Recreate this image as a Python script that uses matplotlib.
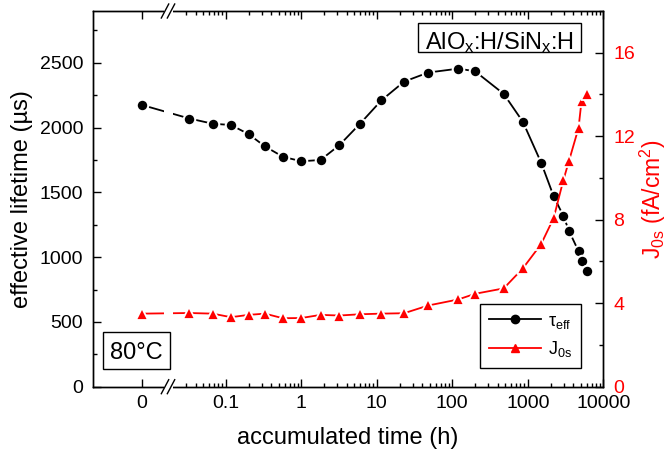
import numpy as np
import matplotlib
matplotlib.use('Agg')
import matplotlib.pyplot as plt
from matplotlib.lines import Line2D
from matplotlib.patches import Rectangle
from matplotlib.ticker import FixedLocator, FixedFormatter, MultipleLocator

plt.rcParams['font.family'] = 'Liberation Sans'
plt.rcParams['mathtext.fontset'] = 'custom'
plt.rcParams['mathtext.rm'] = 'Liberation Sans'
plt.rcParams['mathtext.it'] = 'Liberation Sans:italic'
plt.rcParams['mathtext.bf'] = 'Liberation Sans:bold'

# accumulated anneal time at 80 C (h); first point is the as-deposited sample
time_h = [0, 0.033, 0.067, 0.117, 0.2, 0.33, 0.57, 1.0, 1.8, 3.2, 6.0, 11.5,
          23, 48, 120, 200, 480, 860, 1500, 2200, 2950, 3500, 4700, 5150, 6000]
# effective lifetime (us)
tau_eff = [2175, 2070, 2030, 2020, 1950, 1855, 1775, 1740, 1750, 1865, 2030, 2210,
           2355, 2425, 2455, 2435, 2260, 2045, 1730, 1470, 1320, 1205, 1045, 970, 895]
# surface saturation current density (fA/cm2)
j0s = [3.50, 3.53, 3.50, 3.33, 3.44, 3.50, 3.28, 3.29, 3.44, 3.41, 3.47, 3.50,
       3.52, 3.89, 4.18, 4.45, 4.71, 5.67, 6.83, 8.08, 9.88, 10.8, 12.4, 13.7, 14.0]

xticks = [0, 0.1, 1, 10, 100, 1000, 10000]
xticklabels = ['0', '0.1', '1', '10', '100', '1000', '10000']

# x scale: linear stretch around t=0, log10 above T_LIN
T_LIN = 0.02
L0 = -2.113
SLOPE = (np.log10(T_LIN) - L0) / T_LIN
T_BREAK = 0.0168


def fwd(t):
    t = np.asarray(t, dtype=float)
    lg = np.log10(np.where(t > T_LIN, t, T_LIN))
    return np.where(t > T_LIN, lg, L0 + SLOPE * t)


def inv(u):
    u = np.asarray(u, dtype=float)
    ex = 10.0 ** np.clip(u, -10, 10)
    return np.where(u > np.log10(T_LIN), ex, (u - L0) / SLOPE)


fig = plt.figure(figsize=(6.69, 4.51), dpi=100)
ax = fig.add_axes([0.139, 0.1426, 0.7628, 0.833])
ax.set_xscale('function', functions=(fwd, inv))
ax.set_xlim(-0.0312, 10000)
ax.set_ylim(0, 2900)
ax2 = ax.twinx()
ax2.set_ylim(0, 18)

ax.plot(time_h, tau_eff, '-', color='black', lw=1.3, zorder=2)
ax.plot(time_h, tau_eff, 'o', ms=8.3, mfc='black', mec='white', mew=1.5, zorder=4)
ax2.plot(time_h, j0s, '-', color='red', lw=1.3, zorder=2)
ax2.plot(time_h, j0s, '^', ms=9, mfc='red', mec='white', mew=1.3, zorder=4)

# ticks
minor = [k * 10.0 ** n for n in range(-2, 4) for k in range(2, 10)]
minor = [m for m in minor if m >= 0.03]
ax.xaxis.set_major_locator(FixedLocator(xticks))
ax.xaxis.set_major_formatter(FixedFormatter(xticklabels))
ax.xaxis.set_minor_locator(FixedLocator(minor))
ax.yaxis.set_major_locator(MultipleLocator(500))
ax.yaxis.set_minor_locator(MultipleLocator(250))
ax2.yaxis.set_major_locator(MultipleLocator(4))
ax2.yaxis.set_minor_locator(MultipleLocator(2))

ax.tick_params(axis='both', which='both', direction='in', top=True, right=False,
               labelsize=14, width=1)
ax.tick_params(which='major', length=6)
ax.tick_params(which='minor', length=3)
ax.tick_params(axis='x', pad=6)
ax.tick_params(axis='y', pad=7)
ax2.tick_params(axis='y', which='both', direction='in', labelsize=14, width=1,
                labelcolor='red', color='black', pad=7)
ax2.tick_params(which='major', length=6)
ax2.tick_params(which='minor', length=3)
for a in (ax, ax2):
    for s in a.spines.values():
        s.set_linewidth(1.0)

ax.set_xlabel('accumulated time (h)', fontsize=17, labelpad=11)
ax.set_ylabel('effective lifetime (\u00b5s)', fontsize=17, labelpad=5)
ax2.set_ylabel('J$_{\\rm 0s}$ (fA/cm$^{2}$)', fontsize=16.5, color='red', labelpad=2)

# axis break at T_BREAK
xb = ax.transAxes.inverted().transform(ax.transData.transform((T_BREAK, 0)))[0]
w = ax.get_position().width * fig.get_figwidth() * fig.dpi
h = ax.get_position().height * fig.get_figheight() * fig.dpi
gap = 4.5 / w
ax2.add_patch(Rectangle((xb - gap, -0.01), 2 * gap, 1.02, transform=ax2.transAxes,
                        facecolor='white', edgecolor='none', clip_on=False, zorder=3))
dx, dy, off = 3.7 / w, 7.0 / h, 3.0 / w
for yb in (0, 1):
    for c in (xb - off, xb + off):
        ax2.plot([c - dx, c + dx], [yb - dy, yb + dy], color='black', lw=1.0,
                 transform=ax2.transAxes, clip_on=False, zorder=5)

# label boxes
ax2.add_patch(Rectangle((0.636, 0.891), 0.320, 0.077, transform=ax2.transAxes,
                        facecolor='white', edgecolor='black', lw=1.0, zorder=6))
ax2.text(0.7957, 0.8993, 'AlO$_{\\rm x}$:H/SiN$_{\\rm x}$:H', transform=ax2.transAxes,
         ha='center', va='baseline', fontsize=17, zorder=7)
ax2.add_patch(Rectangle((0.0196, 0.047), 0.1313, 0.0986, transform=ax2.transAxes,
                        facecolor='white', edgecolor='black', lw=1.0, zorder=6))
ax2.text(0.0848, 0.0729, '80\u00b0C', transform=ax2.transAxes,
         ha='center', va='baseline', fontsize=17, zorder=7)

handles = [Line2D([], [], color='black', lw=1.3, marker='o', ms=6),
           Line2D([], [], color='red', lw=1.3, marker='^', ms=6)]
leg = ax2.legend(handles, ['\u03c4$_{\\rm eff}$', 'J$_{\\rm 0s}$'], loc='lower right',
                 bbox_to_anchor=(0.957, 0.05), borderaxespad=0, fontsize=13,
                 fancybox=False, framealpha=1, edgecolor='black', handlelength=2.9,
                 handletextpad=0.4, labelspacing=0.45, borderpad=0.5)
leg.get_frame().set_linewidth(1.0)
leg.set_zorder(8)

fig.savefig('out.png', dpi=100)
